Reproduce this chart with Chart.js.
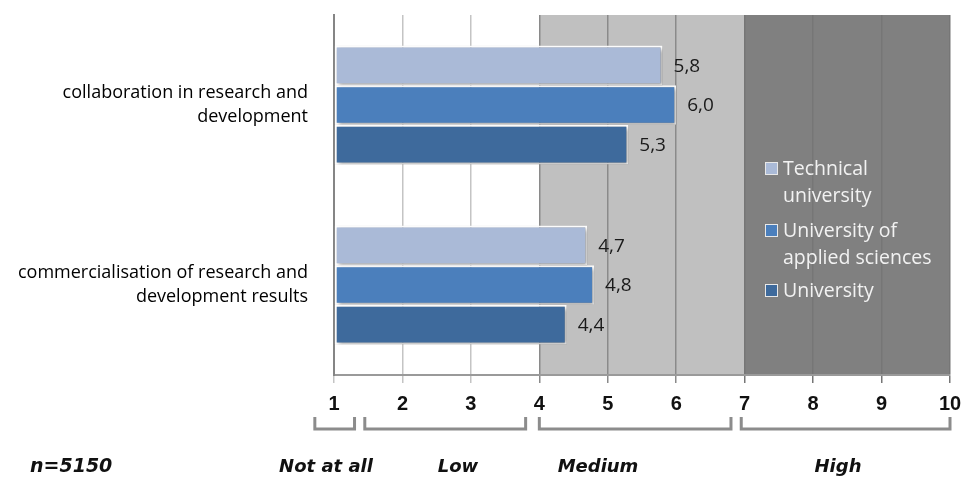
<!DOCTYPE html>
<html>
<head>
<meta charset="utf-8">
<script src="https://cdn.jsdelivr.net/npm/chart.js@4"></script>
<style>
  html, body { margin: 0; padding: 0; background: #fff; }
  #wrap { width: 966px; height: 483px; }
</style>
</head>
<body>
<div id="wrap"><canvas id="chart" width="966" height="483"></canvas></div>
<script>
var categories = [
  ['collaboration in research and', 'development'],
  ['commercialisation of research and', 'development results']
];
var seriesNames = ['Technical university', 'University of applied sciences', 'University'];
var legendLines = [['Technical', 'university'], ['University of', 'applied sciences'], ['University']];
var technical = [5.8, 4.7];
var applied = [6.0, 4.8];
var university = [5.3, 4.4];
var tickValues = [1, 2, 3, 4, 5, 6, 7, 8, 9, 10];
// answer ranges under the axis
var bandLabels = ['Not at all', 'Low', 'Medium', 'High'];
var bracketFrom = [0.72, 1.45, 4.0, 6.95];
var bracketTo = [1.3, 3.8, 6.8, 10.0];
var shadeFrom = [4, 7];
var shadeTo = [7, 10];
var shadeColors = ['#c0c0c0', '#808080'];
var sampleNote = 'n=5150';

var colors = ['#aabad7', '#4b7fbc', '#3e6a9c'];
var sansFont = '"Open Sans", "Liberation Sans", sans-serif';

var bandsPlugin = {
  id: 'bands',
  beforeDraw: function(chart) {
    var ctx = chart.ctx, x = chart.scales.x, a = chart.chartArea;
    ctx.save();
    for (var i = 0; i < shadeFrom.length; i++) {
      var l = x.getPixelForValue(shadeFrom[i]), r = x.getPixelForValue(shadeTo[i]);
      ctx.fillStyle = shadeColors[i];
      ctx.fillRect(l, a.top, r - l, a.bottom - a.top);
    }
    ctx.restore();
  }
};

var shadowPlugin = {
  id: 'barShadow',
  beforeDatasetsDraw: function(chart) {
    var ctx = chart.ctx;
    ctx.save();
    ctx.shadowColor = 'rgba(0,0,0,0.35)';
    ctx.shadowBlur = 4;
    ctx.shadowOffsetX = 2;
    ctx.shadowOffsetY = 2;
  },
  afterDatasetsDraw: function(chart) {
    chart.ctx.restore();
  }
};

var labelsPlugin = {
  id: 'extras',
  afterDraw: function(chart) {
    var ctx = chart.ctx, x = chart.scales.x;
    ctx.save();

    // value labels
    ctx.font = '19px ' + sansFont;
    ctx.fillStyle = '#1a1a1a';
    ctx.textBaseline = 'middle';
    ctx.textAlign = 'left';
    chart.data.datasets.forEach(function(ds, di) {
      chart.getDatasetMeta(di).data.forEach(function(bar, i) {
        ctx.fillText(ds.data[i].toFixed(1).replace('.', ','), bar.x + 11, bar.y + 1);
      });
    });

    // legend inside the dark band
    var ly = [168, 230, 290];
    ctx.font = '19.5px ' + sansFont;
    for (var s = 0; s < legendLines.length; s++) {
      ctx.fillStyle = colors[s];
      ctx.fillRect(765, ly[s] - 6, 13, 13);
      ctx.strokeStyle = '#e8e8e8';
      ctx.lineWidth = 1;
      ctx.strokeRect(765.5, ly[s] - 5.5, 12, 12);
      ctx.fillStyle = '#f2f2f2';
      for (var k = 0; k < legendLines[s].length; k++) {
        ctx.fillText(legendLines[s][k], 783, ly[s] + 1 + k * 27);
      }
    }

    // brackets under the axis
    ctx.strokeStyle = '#8c8c8c';
    ctx.lineWidth = 3;
    for (var b = 0; b < bandLabels.length; b++) {
      var l = x.getPixelForValue(bracketFrom[b]), r = x.getPixelForValue(bracketTo[b]);
      ctx.beginPath();
      ctx.moveTo(l, 417);
      ctx.lineTo(l, 429);
      ctx.lineTo(r, 429);
      ctx.lineTo(r, 417);
      ctx.stroke();
    }

    // range names and sample size
    ctx.fillStyle = '#111';
    ctx.font = 'italic bold 18px "DejaVu Sans", sans-serif';
    ctx.textAlign = 'center';
    var centers = [326, 458, 598, 838];
    for (var c = 0; c < bandLabels.length; c++) {
      ctx.fillText(bandLabels[c], centers[c], 467);
    }
    ctx.textAlign = 'left';
    ctx.font = 'italic bold 19px "DejaVu Sans", sans-serif';
    ctx.fillText(sampleNote, 30, 467);
    ctx.restore();
  }
};

new Chart(document.getElementById('chart').getContext('2d'), {
  type: 'bar',
  data: {
    labels: categories,
    datasets: [
      { label: seriesNames[0], data: technical, backgroundColor: colors[0] },
      { label: seriesNames[1], data: applied, backgroundColor: colors[1] },
      { label: seriesNames[2], data: university, backgroundColor: colors[2] }
    ]
  },
  options: {
    indexAxis: 'y',
    responsive: false,
    animation: false,
    layout: { padding: { top: 15, right: 16, left: 0, bottom: 0 } },
    datasets: {
      bar: {
        base: 1,
        borderColor: '#ffffff',
        borderWidth: 2,
        borderSkipped: false,
        categoryPercentage: 0.66,
        barPercentage: 1
      }
    },
    plugins: {
      legend: { display: false },
      tooltip: { enabled: false }
    },
    scales: {
      x: {
        type: 'linear',
        min: tickValues[0],
        max: tickValues[tickValues.length - 1],
        afterBuildTicks: function(scale) {
          scale.ticks = tickValues.map(function(v) { return { value: v }; });
        },
        afterFit: function(scale) {
          scale.height = 108;
          scale.paddingLeft = 0;
          scale.paddingRight = 0;
        },
        grid: {
          color: function(ctx) {
            var v = ctx.tick ? ctx.tick.value : 0;
            if (v < 4) return '#c4c4c4';
            if (v < 7) return '#8a8a8a';
            return '#767676';
          },
          lineWidth: 1.5,
          tickLength: 8
        },
        border: { display: true, color: '#9a9a9a', width: 2 },
        ticks: {
          color: '#111',
          font: { family: '"Liberation Sans", Arial, sans-serif', size: 20, weight: 'bold' },
          padding: 9,
          maxRotation: 0
        }
      },
      y: {
        afterFit: function(scale) {
          scale.width = 334;
          scale.paddingTop = 0;
          scale.paddingBottom = 0;
        },
        grid: { display: false },
        border: { display: true, color: '#858585', width: 2 },
        ticks: {
          color: '#000',
          font: { family: sansFont, size: 18, lineHeight: 1.3 },
          padding: 18,
          crossAlign: 'near'
        }
      }
    }
  },
  plugins: [bandsPlugin, shadowPlugin, labelsPlugin]
});
</script>
</body>
</html>
